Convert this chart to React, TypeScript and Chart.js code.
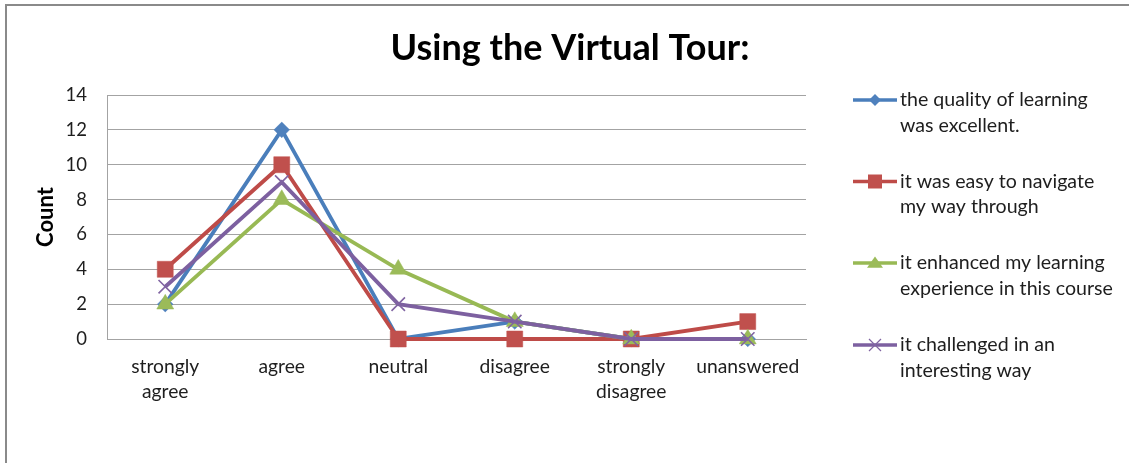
import React, { useEffect, useRef } from 'react';
import { Chart, registerables } from 'chart.js';

Chart.register(...registerables);

const categories: (string | string[])[] = [
  ['strongly', 'agree'],
  'agree',
  'neutral',
  'disagree',
  ['strongly', 'disagree'],
  'unanswered',
];

const seriesNames: string[][] = [
  ['the quality of learning', 'was excellent.'],
  ['it was easy to navigate', 'my way through'],
  ['it enhanced my learning', 'experience in this course'],
  ['it challenged in an', 'interesting way'],
];

const qualityValues = [2, 12, 0, 1, 0, 0];
const navigateValues = [4, 10, 0, 0, 0, 1];
const enhancedValues = [2, 8, 4, 1, 0, 0];
const challengedValues = [3, 9, 2, 1, 0, 0];

const yTickMin = 0;
const yTickMax = 14;
const yTickStep = 2;

const titleText = 'Using the Virtual Tour:';
const yAxisTitle = 'Count';

const lineColors = ['#4A7EBB', '#BE4B48', '#98B954', '#7D60A0'];
const markerColors = ['#4F81BD', '#C0504D', '#9BBB59', '#8064A2'];
const markerStyles = ['rectRot', 'rect', 'triangle', 'crossRot'];

const FONT = "Lato, 'Open Sans', 'DejaVu Sans', sans-serif";
const TEXT_COLOR = '#1e1e1e';
const GRID_COLOR = '#a3a3a3';

function drawMarker(ctx: CanvasRenderingContext2D, style: string, x: number, y: number, r: number, color: string) {
  ctx.save();
  ctx.fillStyle = color;
  ctx.strokeStyle = color;
  ctx.beginPath();
  if (style === 'rectRot') {
    ctx.moveTo(x, y - r);
    ctx.lineTo(x + r, y);
    ctx.lineTo(x, y + r);
    ctx.lineTo(x - r, y);
    ctx.closePath();
    ctx.fill();
  } else if (style === 'rect') {
    ctx.rect(x - r, y - r, 2 * r, 2 * r);
    ctx.fill();
  } else if (style === 'triangle') {
    ctx.moveTo(x, y - r * 0.8);
    ctx.lineTo(x + r, y + r * 0.6);
    ctx.lineTo(x - r, y + r * 0.6);
    ctx.closePath();
    ctx.fill();
  } else {
    ctx.lineWidth = 1.2;
    ctx.moveTo(x - r, y - r);
    ctx.lineTo(x + r, y + r);
    ctx.moveTo(x + r, y - r);
    ctx.lineTo(x - r, y + r);
    ctx.stroke();
  }
  ctx.restore();
}

const decorPlugin = {
  id: 'decor',
  beforeDraw(chart: any) {
    const ctx = chart.ctx as CanvasRenderingContext2D;
    ctx.save();
    ctx.fillStyle = '#ffffff';
    ctx.fillRect(0, 0, chart.width, chart.height);
    ctx.strokeStyle = '#8a8a8a';
    ctx.lineWidth = 2;
    ctx.strokeRect(6, 5, chart.width + 20, chart.height + 20);
    ctx.restore();
  },
  afterDraw(chart: any) {
    const ctx = chart.ctx as CanvasRenderingContext2D;
    ctx.save();
    // title
    ctx.fillStyle = '#000000';
    ctx.font = `bold 36px ${FONT}`;
    ctx.textAlign = 'center';
    ctx.textBaseline = 'alphabetic';
    ctx.fillText(titleText, 570, 60);

    // legend
    const firstY = [100, 181.5, 263, 345];
    ctx.font = `19.6px ${FONT}`;
    ctx.textAlign = 'left';
    ctx.textBaseline = 'middle';
    const sizes = [6, 7, 8, 6];
    seriesNames.forEach((lines, i) => {
      const y = firstY[i];
      ctx.strokeStyle = lineColors[i];
      ctx.lineWidth = 3.5;
      ctx.beginPath();
      ctx.moveTo(853, y);
      ctx.lineTo(897, y);
      ctx.stroke();
      drawMarker(ctx, markerStyles[i], 875, y, sizes[i], markerColors[i]);
      ctx.fillStyle = TEXT_COLOR;
      lines.forEach((t, j) => ctx.fillText(t, 900, y + j * 25.5));
    });
    ctx.restore();
  },
};

export default function App() {
  const canvasRef = useRef<HTMLCanvasElement | null>(null);

  useEffect(() => {
    const canvas = canvasRef.current;
    if (!canvas) return;
    const seriesValues = [qualityValues, navigateValues, enhancedValues, challengedValues];
    const radii = [7.8, 11.3, 9.8, 9.5];
    const chart = new Chart(canvas, {
      type: 'line',
      data: {
        labels: categories as any,
        datasets: seriesValues.map((vals, i) => ({
          label: seriesNames[i].join(' '),
          data: vals,
          borderColor: lineColors[i],
          backgroundColor: markerColors[i],
          borderWidth: 3.8,
          pointStyle: markerStyles[i] as any,
          pointRadius: radii[i],
          pointBackgroundColor: markerColors[i],
          pointBorderColor: markerColors[i],
          pointBorderWidth: i === 3 ? 1.6 : 0.5,
          tension: 0,
          clip: false as any,
          order: 3 - i,
        })),
      },
      options: {
        responsive: false,
        animation: false,
        devicePixelRatio: 1,
        layout: { padding: { left: 0, right: 1129 - 806, top: 95, bottom: 0 } },
        plugins: {
          legend: { display: false },
          tooltip: { enabled: false },
          title: { display: false },
        },
        scales: {
          x: {
            type: 'category',
            offset: true,
            grid: { display: false, drawTicks: false },
            border: { display: true, color: GRID_COLOR, width: 1 },
            ticks: {
              color: TEXT_COLOR,
              font: { family: FONT, size: 19.3, lineHeight: 1.3 },
              padding: 15,
              maxRotation: 0,
              autoSkip: false,
            },
            afterFit: (scale: any) => {
              scale.height = 463 - 339;
            },
          },
          y: {
            min: yTickMin,
            max: yTickMax,
            ticks: {
              stepSize: yTickStep,
              color: TEXT_COLOR,
              font: { family: FONT, size: 18.5 },
              padding: 20,
            },
            grid: { color: GRID_COLOR, lineWidth: 1, drawTicks: false },
            border: { display: true, color: GRID_COLOR, width: 1 },
            title: {
              display: true,
              text: yAxisTitle,
              color: '#000000',
              font: { family: FONT, size: 22, weight: 'bold', lineHeight: 1.2 },
              padding: { top: 33, bottom: 0 },
            },
            afterFit: (scale: any) => {
              scale.width = 107;
            },
          },
        },
      },
      plugins: [decorPlugin],
    });
    return () => chart.destroy();
  }, []);

  return (
    <div style={{ position: 'absolute', left: 0, top: 0, width: 1129, height: 463, background: '#fff' }}>
      <canvas ref={canvasRef} width={1129} height={463} style={{ display: 'block', width: 1129, height: 463 }} />
    </div>
  );
}
